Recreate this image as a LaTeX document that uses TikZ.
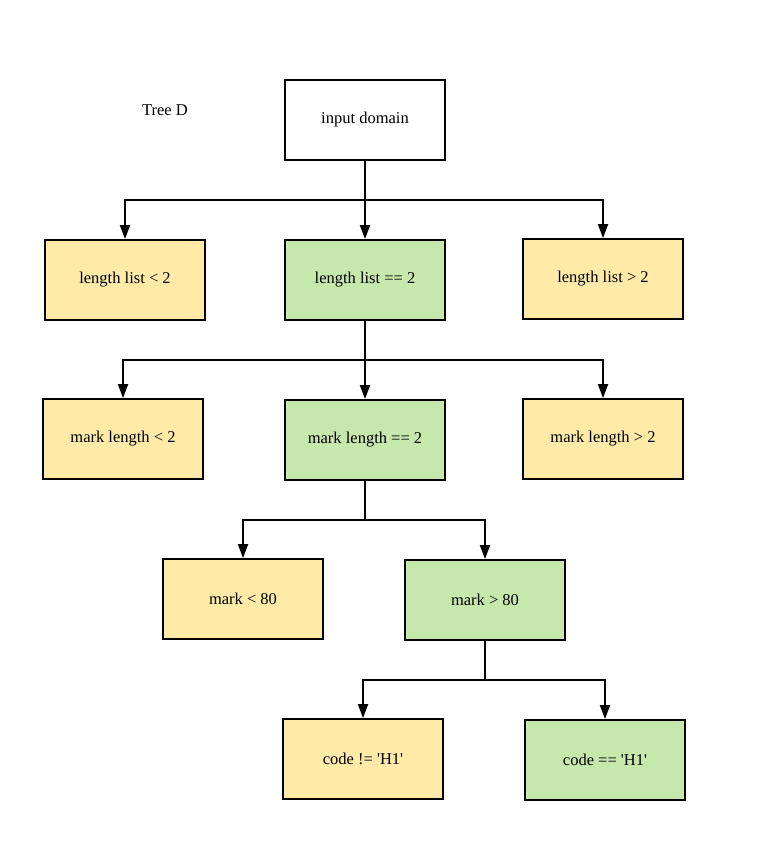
\documentclass[tikz,border=0pt]{standalone}
\usepackage{fontspec}
\setmainfont{Liberation Serif}
\usetikzlibrary{arrows.meta}
\definecolor{boxyellow}{HTML}{FFEAA7}
\definecolor{boxgreen}{HTML}{C7E8AD}
\newcommand{\sq}{\textquotesingle}
\begin{document}
\begin{tikzpicture}[x=1pt,y=-1pt,
  label font/.style={font=\fontsize{16.5}{19}\selectfont},
  box/.style={draw=black,line width=1.8pt,minimum width=160pt,minimum height=80pt,inner sep=0pt,label font},
  nobox/.style={box,fill=boxyellow},
  yesbox/.style={box,fill=boxgreen},
  link/.style={line width=1.8pt,-{Triangle[length=14pt,width=10pt]}},
  trunk/.style={line width=1.8pt}]
\useasboundingbox (0,0) rectangle (761,855);
\node[label font] (title) at (165,110) {Tree D};
\node[box,fill=white] (root) at (365,120) {input domain};
\node[nobox] (ll1) at (125,280) {length list < 2};
\node[yesbox] (ll2) at (365,280) {length list == 2};
\node[nobox] (ll3) at (603,279) {length list > 2};
\node[nobox] (ml1) at (123,439) {mark length < 2};
\node[yesbox] (ml2) at (365,440) {mark length == 2};
\node[nobox] (ml3) at (603,439) {mark length > 2};
\node[nobox] (mk1) at (243,599) {mark < 80};
\node[yesbox] (mk2) at (485,600) {mark > 80};
\node[nobox] (cd1) at (363,759) {code != \sq H1\sq};
\node[yesbox] (cd2) at (605,760) {code == \sq H1\sq};
% level 1
\coordinate (j1) at (365,200);
\draw[trunk] (root.south) -- (j1);
\draw[link] (j1) -| (ll1.north);
\draw[link] (j1) -- (ll2.north);
\draw[link] (j1) -| (ll3.north);
% level 2
\coordinate (j2) at (365,360);
\draw[trunk] (ll2.south) -- (j2);
\draw[link] (j2) -| (ml1.north);
\draw[link] (j2) -- (ml2.north);
\draw[link] (j2) -| (ml3.north);
% level 3
\coordinate (j3) at (365,520);
\draw[trunk] (ml2.south) -- (j3);
\draw[link] (j3) -| (mk1.north);
\draw[link] (j3) -| (mk2.north);
% level 4
\coordinate (j4) at (485,680);
\draw[trunk] (mk2.south) -- (j4);
\draw[link] (j4) -| (cd1.north);
\draw[link] (j4) -| (cd2.north);
\end{tikzpicture}
\end{document}
